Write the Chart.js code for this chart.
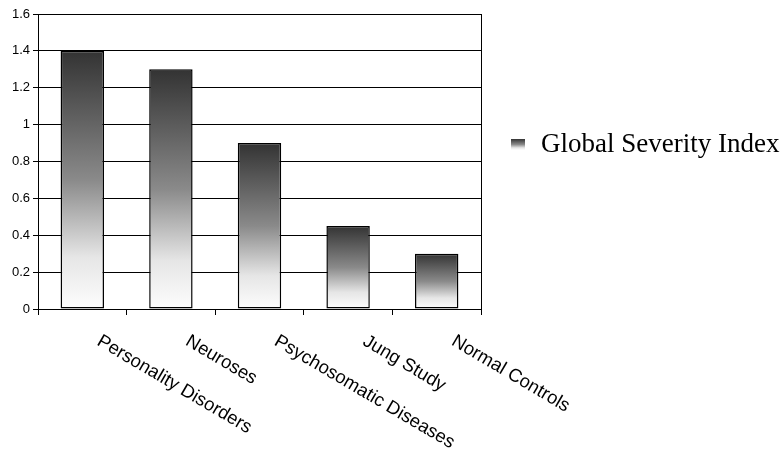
<!DOCTYPE html>
<html>
<head>
<meta charset="utf-8">
<script src="https://cdn.jsdelivr.net/npm/chart.js@4"></script>
<style>
    html, body { margin: 0; padding: 0; background: #fff; }
    #wrap { width: 781px; height: 454px; }
</style>
</head>
<body>
<div id="wrap"><canvas id="gsiChart" width="781" height="454"></canvas></div>
<script>
const categories = ["Personality Disorders", "Neuroses", "Psychosomatic Diseases", "Jung Study", "Normal Controls"];
const gsiValues = [1.4, 1.3, 0.9, 0.45, 0.3];
const seriesName = "Global Severity Index";
const yMin = 0;
const yMax = 1.6;
const yStep = 0.2;

function barGradient(ctx, top, bottom) {
    const g = ctx.createLinearGradient(0, top, 0, bottom);
    g.addColorStop(0, "#333333");
    g.addColorStop(0.5, "#8a8a8a");
    g.addColorStop(0.8, "#e6e6e6");
    g.addColorStop(1, "#fdfdfd");
    return g;
}

// right border, rotated category labels and the legend
const extras = {
    id: "extras",
    afterDraw(chart) {
        const ctx = chart.ctx;
        const area = chart.chartArea;
        const xScale = chart.scales.x;

        ctx.save();
        ctx.strokeStyle = "#000";
        ctx.lineWidth = 1;
        ctx.beginPath();
        ctx.moveTo(Math.round(area.right) + 0.5, area.top);
        ctx.lineTo(Math.round(area.right) + 0.5, area.bottom);
        ctx.stroke();

        ctx.fillStyle = "#000";
        ctx.font = "18.5px 'Liberation Sans', Arial, sans-serif";
        ctx.textAlign = "left";
        ctx.textBaseline = "top";
        categories.forEach((label, i) => {
            const x = xScale.getPixelForValue(i);
            ctx.save();
            ctx.translate(x + 21, area.bottom + 23);
            ctx.rotate(30.5 * Math.PI / 180);
            ctx.fillText(label, 0, 0);
            ctx.restore();
        });

        // legend
        const bx = 511, by = 139, bw = 14, bh = 11;
        ctx.fillStyle = barGradient(ctx, by, by + bh);
        ctx.fillRect(bx, by, bw, bh);
        ctx.fillStyle = "#000";
        ctx.font = "27px 'Liberation Serif', 'Times New Roman', serif";
        ctx.textBaseline = "alphabetic";
        ctx.fillText(seriesName, 541, 152);
        ctx.restore();
    },
};

const ctx = document.getElementById("gsiChart").getContext("2d");
new Chart(ctx, {
    type: "bar",
    data: {
        labels: categories,
        datasets: [
            {
                label: seriesName,
                data: gsiValues,
                backgroundColor: (c) => {
                    const yScale = c.chart.scales.y;
                    if (!yScale || c.raw === undefined) return "#888";
                    const top = yScale.getPixelForValue(c.raw);
                    const bottom = yScale.getPixelForValue(0);
                    if (!isFinite(top) || !isFinite(bottom) || top === bottom) return "#888";
                    return barGradient(c.chart.ctx, top, bottom);
                },
                borderColor: "#000",
                borderWidth: 1.5,
                borderSkipped: false,
                barPercentage: 0.49,
                categoryPercentage: 1,
            },
        ],
    },
    options: {
        responsive: false,
        animation: false,
        devicePixelRatio: 1,
        layout: {
            padding: { left: 0, top: 14, right: 300, bottom: 139 },
        },
        plugins: {
            legend: { display: false },
            tooltip: { enabled: false },
        },
        scales: {
            x: {
                offset: true,
                afterFit: (scale) => { scale.height = 6; },
                grid: {
                    offset: true,
                    drawOnChartArea: false,
                    drawTicks: true,
                    tickLength: 6,
                    color: "#000",
                },
                border: { display: true, color: "#000", width: 1 },
                ticks: { display: false },
            },
            y: {
                min: yMin,
                max: yMax,
                afterFit: (scale) => { scale.width = 38; },
                grid: {
                    color: "#000",
                    lineWidth: 1,
                    tickLength: 5,
                },
                border: { display: true, color: "#000", width: 1 },
                ticks: {
                    stepSize: yStep,
                    padding: 3,
                    color: "#000",
                    font: { family: "'Liberation Sans', Arial, sans-serif", size: 13 },
                    callback: (v) => String(parseFloat(Number(v).toFixed(1))),
                },
            },
        },
    },
    plugins: [extras],
});
</script>
</body>
</html>
